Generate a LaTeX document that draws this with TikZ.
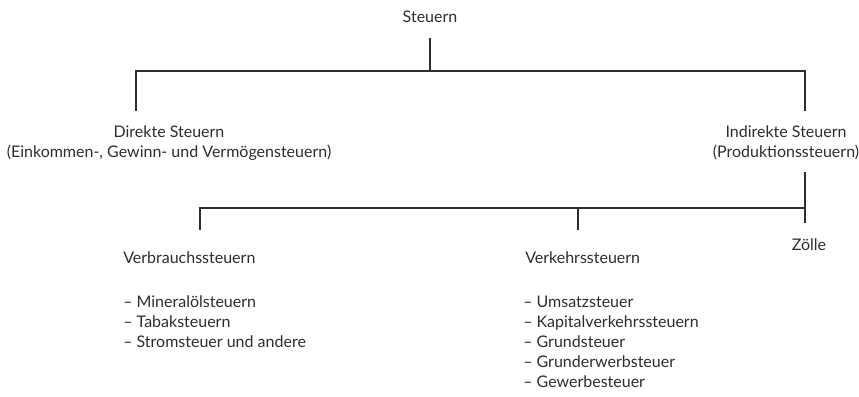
\documentclass[tikz,border=0pt]{standalone}
\usepackage{fontspec}
\setmainfont{Lato}
\definecolor{ink}{RGB}{45,45,45}

\begin{document}
\begin{tikzpicture}[x=0.75pt,y=0.75pt,yscale=-1,xscale=1,
  lbl/.style={inner sep=0pt, text=ink, font=\fontsize{12}{15}\selectfont},
  conn/.style={draw=ink, line width=1pt}]
\useasboundingbox (0,0) rectangle (859,396);

% Text Node
\node[lbl] (steuern) at (430,17) {Steuern};
% Text Node
\node[lbl, align=center] (direkte) at (169,143) {Direkte Steuern\\(Einkommen-, Gewinn- und Vermögensteuern)};
% Text Node
\node[lbl, align=center] (indirekte) at (786,143) {Indirekte Steuern\\(Produktionssteuern)};
% Text Node
\node[lbl, anchor=west] (verbrauch) at (123,258) {Verbrauchssteuern};
\node[lbl, anchor=west, align=left] (verbrauchlist) at (123,322) {\textendash{} Mineralölsteuern\\\textendash{} Tabaksteuern\\\textendash{} Stromsteuer und andere};
% Text Node
\node[lbl, anchor=west] (verkehr) at (525,258) {Verkehrssteuern};
\node[lbl, anchor=west, align=left] (verkehrlist) at (523,342) {\textendash{} Umsatzsteuer\\\textendash{} Kapitalverkehrssteuern\\\textendash{} Grundsteuer\\\textendash{} Grunderwerbsteuer\\\textendash{} Gewerbesteuer};
% Text Node
\node[lbl] (zoelle) at (809,245) {Zölle};

% Connection
\coordinate (stem1) at (430,38);
\coordinate (split1) at (430,71);
\coordinate (dropd) at (136,111);
\coordinate (dropi) at (805,111);
\draw[conn] (stem1) -- (split1);
\draw[conn] (dropd) |- (split1) -| (dropi);
% Connection
\coordinate (stem2) at (805,172);
\coordinate (split2) at (805,208);
\coordinate (dropvb) at (200,230);
\coordinate (dropvk) at (578,230);
\coordinate (dropz) at (805,223);
\draw[conn] (stem2) -- (dropz);
\draw[conn] (dropvb) |- (split2);
\draw[conn] (dropvk) -- (dropvk |- split2);

\end{tikzpicture}
\end{document}
